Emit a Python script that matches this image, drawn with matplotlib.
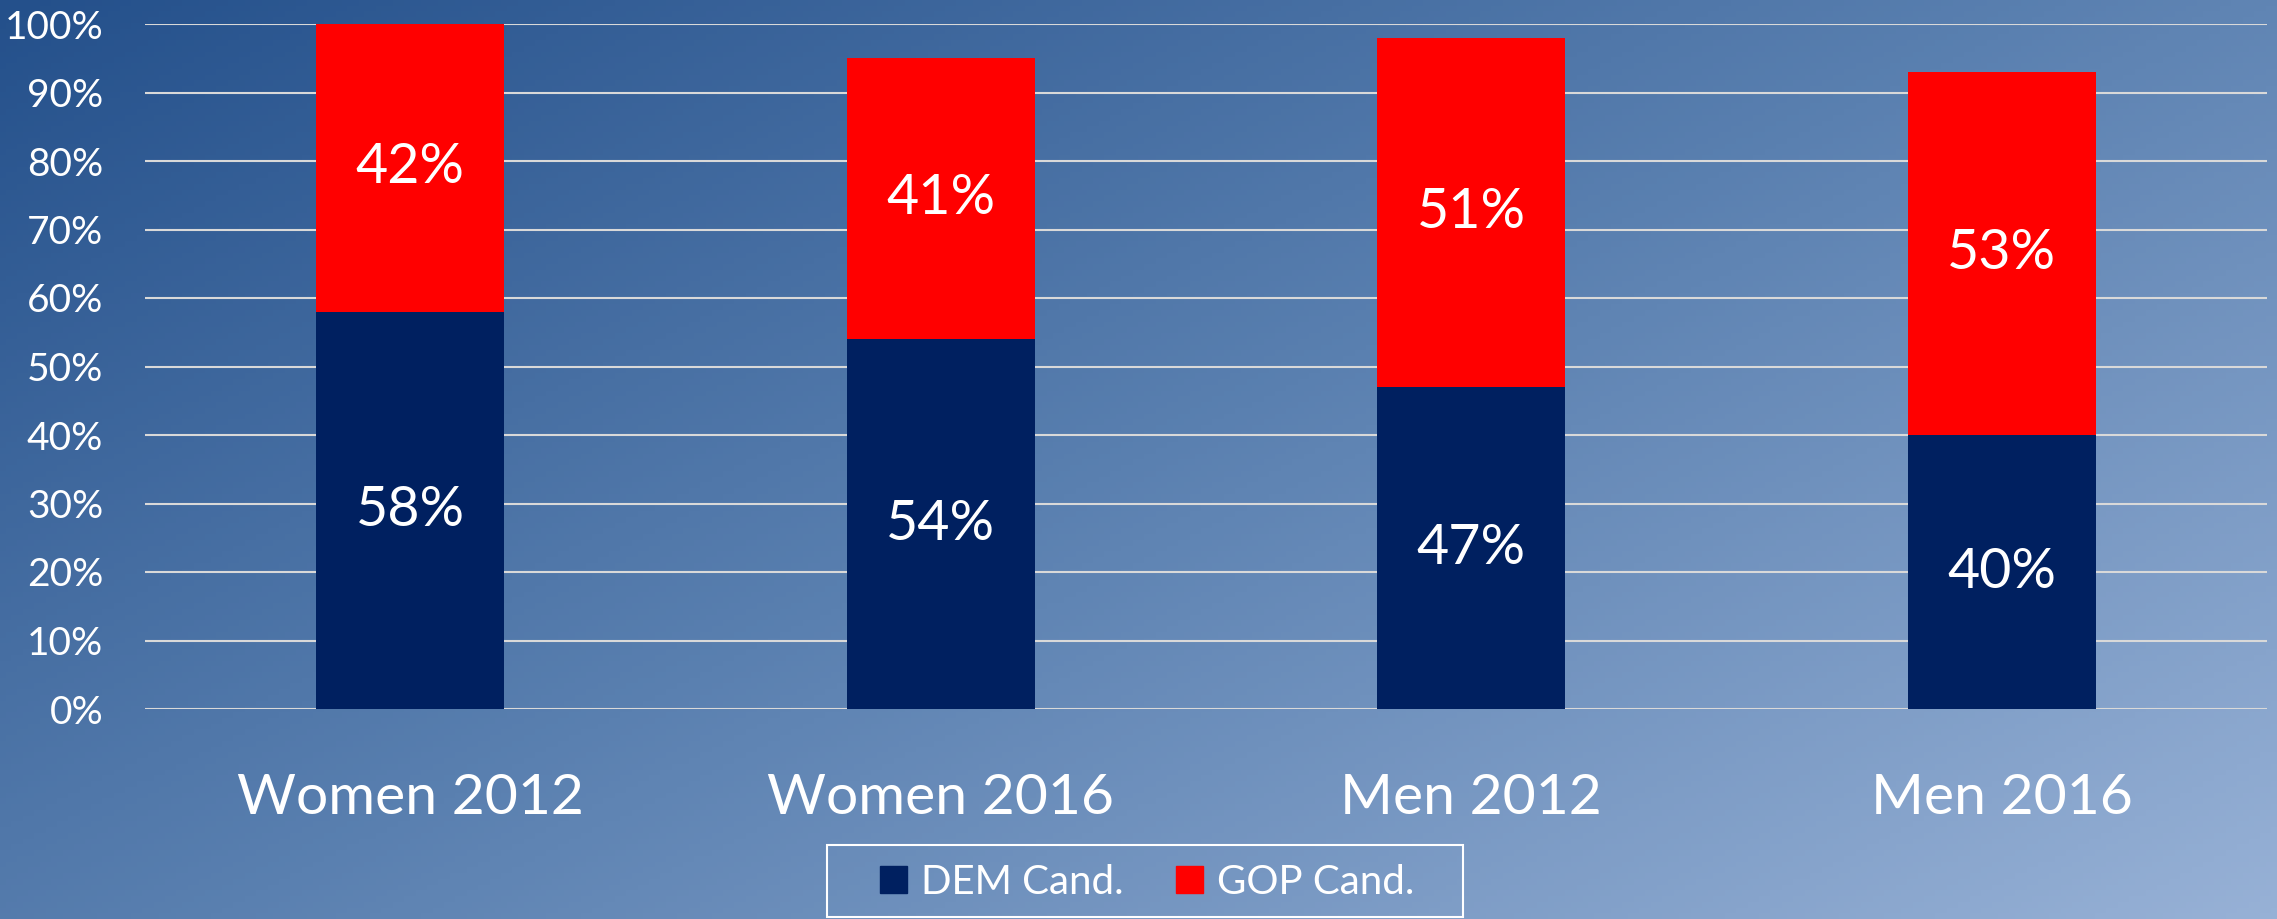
import numpy as np
import matplotlib
matplotlib.use("Agg")
from matplotlib import pyplot as plt
from matplotlib.patches import Patch, Rectangle
from matplotlib.colors import LinearSegmentedColormap

plt.rcParams['font.family'] = ['Lato', 'DejaVu Sans']

# data
groups = ['Women 2012', 'Women 2016', 'Men 2012', 'Men 2016']
dem = [58, 54, 47, 40]
gop = [42, 41, 51, 53]
yticks = np.arange(0, 101, 10)

DEM_COL = '#002060'
GOP_COL = '#ff0000'

W, H = 2277, 919
fig = plt.figure(figsize=(W/100, H/100), dpi=100)

# diagonal background gradient
bg = fig.add_axes([0, 0, 1, 1], zorder=-10)
xx, yy = np.meshgrid(np.linspace(0, 1, 400), np.linspace(0, 1, 160))
t = 0.55*xx + 0.45*yy
cmap = LinearSegmentedColormap.from_list('bg', ['#24508b', '#5a80b0', '#97b1d6'])
bg.imshow(t, cmap=cmap, aspect='auto', extent=[0, 1, 1, 0], vmin=0, vmax=1)
bg.set_xlim(0, 1)
bg.set_ylim(1, 0)
bg.axis('off')

ax = fig.add_axes([145/W, (H-709)/H, (2267-145)/W, (709-24)/H])
ax.patch.set_alpha(0)

x = np.arange(len(groups))
bw = 0.355
ax.bar(x, dem, bw, color=DEM_COL, zorder=3, label='DEM Cand.')
ax.bar(x, gop, bw, bottom=dem, color=GOP_COL, zorder=3, label='GOP Cand.')

for i in range(len(groups)):
    ax.text(x[i], dem[i]/2, '%d%%' % dem[i], ha='center', va='center',
            color='white', fontsize=40, zorder=4)
    ax.text(x[i], dem[i] + gop[i]/2, '%d%%' % gop[i], ha='center', va='center',
            color='white', fontsize=40, zorder=4)

ax.set_xlim(-0.5, len(groups) - 0.5)
ax.set_ylim(0, 100)
ax.set_yticks(yticks)
ax.set_yticklabels(['%d%%' % v for v in yticks], fontsize=28, color='white')
ax.set_xticks(x)
ax.set_xticklabels(groups, fontsize=41, color='white')
ax.tick_params(axis='both', length=0)
ax.tick_params(axis='y', pad=30)
ax.tick_params(axis='x', pad=46)
ax.grid(True, axis='y', color='#d9d9d9', lw=1.5, zorder=1)
for s in ax.spines.values():
    s.set_visible(False)

# legend box sits right at the bottom edge
fig.patches.append(Rectangle((827/W, 2/H), (1463-827)/W, (917-845)/H,
                             transform=fig.transFigure, fill=False,
                             edgecolor='white', lw=1.5))
handles = [Patch(color=DEM_COL), Patch(color=GOP_COL)]
fig.legend(handles, ['DEM Cand.', 'GOP Cand.'], ncol=2, frameon=False,
           loc='center', bbox_to_anchor=(1147/W, (H-882)/H),
           fontsize=29, labelcolor='white', handlelength=0.67, handleheight=0.67,
           handletextpad=0.35, columnspacing=1.3)

fig.savefig('out.png', dpi=100)
